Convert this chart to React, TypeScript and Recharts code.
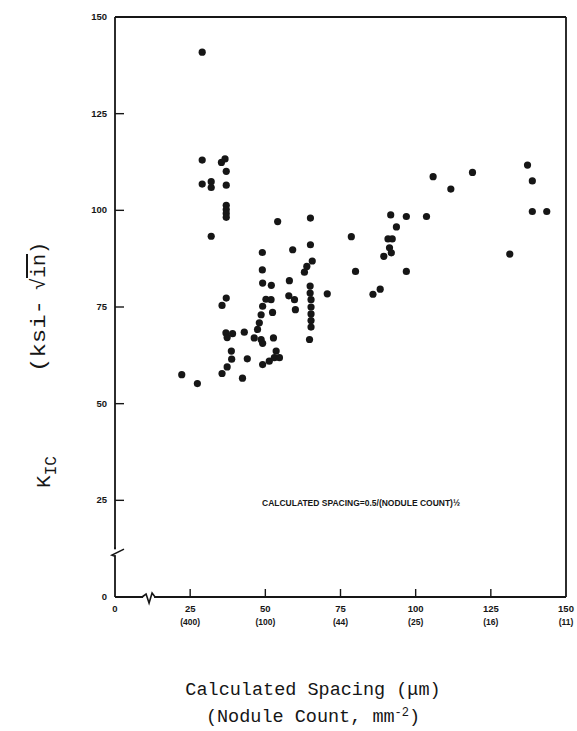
import { ScatterChart, Scatter, XAxis, YAxis, ReferenceLine, ReferenceDot } from "recharts"

// calculated nodule spacing (um) and fracture toughness K_IC (ksi-sqrt(in))
const spacing = [
  22.2, 27.4, 29.0, 29.0, 29.0, 32.0, 32.0, 32.0, 35.4, 36.6, 37.0, 37.0, 37.0, 37.0, 37.0, 37.0,
  37.0, 35.6, 36.9, 37.3, 39.1, 43.0, 38.7, 38.8, 44.0, 37.3, 35.6, 42.4,
  49.0, 49.0, 49.1, 52.0, 54.1, 50.2, 49.1, 48.6, 48.0, 47.4, 51.9, 52.4, 46.3, 48.6, 49.1, 52.7,
  49.1, 51.3, 53.0, 54.7, 53.6,
  58.0, 57.8, 59.7, 60.0, 59.1, 65.0, 65.0, 65.6, 63.8, 63.0, 64.9, 64.9, 65.2, 65.2, 65.2, 65.2,
  65.2, 64.7, 70.6,
  78.6, 80.0, 88.2, 85.8, 91.7, 96.9, 93.6, 90.8, 92.2, 91.3, 91.9, 89.4, 96.9, 103.6, 105.8, 111.7,
  118.9, 131.3, 137.2, 138.8, 138.8, 143.6,
]
const toughness = [
  57.5, 55.2, 140.9, 113.0, 106.8, 107.4, 105.9, 93.3, 112.4, 113.3, 110.1, 106.5, 101.3, 100.2, 99.2, 98.2,
  77.3, 75.4, 68.3, 67.1, 68.1, 68.5, 63.6, 61.5, 61.6, 59.5, 57.8, 56.6,
  89.1, 84.6, 81.2, 80.6, 97.1, 77.0, 75.2, 73.0, 70.9, 69.2, 76.9, 73.6, 67.0, 66.6, 65.6, 67.0,
  60.1, 61.0, 61.9, 61.9, 63.6,
  81.8, 77.9, 76.9, 74.3, 89.8, 98.0, 91.1, 86.9, 85.5, 84.0, 80.4, 78.6, 76.9, 75.0, 73.2, 71.5,
  69.8, 66.6, 78.4,
  93.2, 84.2, 79.6, 78.3, 98.8, 98.4, 95.7, 92.6, 92.6, 90.3, 89.0, 88.1, 84.2, 98.4, 108.7, 105.5,
  109.8, 88.7, 111.7, 107.6, 99.7, 99.7,
]

const xTicks = [0, 25, 50, 75, 100, 125, 150]
const countLabels = ["", "(400)", "(100)", "(44)", "(25)", "(16)", "(11)"]
const yTicks = [0, 25, 50, 75, 100, 125, 150]

// where the axes are broken
const xBreak = 11
const yBreak = 11.6

const data = spacing.map((x, i) => ({ x, y: toughness[i] }))

const ink = "#161616"
const tickFont = "'Liberation Sans Narrow', 'Arial Narrow', Arial, sans-serif"
const monoFont = "'Liberation Mono', 'DejaVu Sans Mono', monospace"

function XTick(props: any) {
  const { x, y, payload, index } = props
  const v = payload.value
  return (
    <g>
      {v !== 0 && v !== 150 && <line x1={x} x2={x} y1={y} y2={y - 8} stroke={ink} strokeWidth={1.4} />}
      <text x={x} y={y + 15} textAnchor="middle" fontSize={9.5} fontWeight="bold" fontFamily={tickFont} fill={ink}>
        {v}
      </text>
      <text x={x} y={y + 28} textAnchor="middle" fontSize={8.5} fontWeight="bold" fontFamily={tickFont} fill={ink}>
        {countLabels[index]}
      </text>
    </g>
  )
}

function YTick(props: any) {
  const { x, y, payload } = props
  const v = payload.value
  return (
    <g>
      {v !== 0 && v !== 150 && <line x1={x} x2={x + 9} y1={y} y2={y} stroke={ink} strokeWidth={1.4} />}
      <text x={x - 8} y={y + 3} textAnchor="end" fontSize={9.5} fontWeight="bold" fontFamily={tickFont} fill={ink}>
        {v}
      </text>
    </g>
  )
}

function XBreak(props: any) {
  const { cx, cy } = props
  return (
    <g>
      <rect x={cx - 5} y={cy - 3} width={11} height={6} fill="#fff" />
      <path
        d={`M${cx - 6},${cy} L${cx - 2},${cy - 3} L${cx + 1},${cy + 6} L${cx + 4},${cy - 4} L${cx + 7},${cy}`}
        fill="none"
        stroke={ink}
        strokeWidth={1.6}
      />
    </g>
  )
}

function YBreak(props: any) {
  const { cx, cy } = props
  return (
    <g>
      <rect x={cx - 3} y={cy - 3} width={6} height={6} fill="#fff" />
      <path
        d={`M${cx},${cy + 4} L${cx - 3},${cy + 3} L${cx + 9},${cy - 3} M${cx},${cy - 3} L${cx},${cy - 5}`}
        fill="none"
        stroke={ink}
        strokeWidth={1.6}
      />
    </g>
  )
}

const Dot = (props: any) => <circle cx={props.cx} cy={props.cy} r={3.6} fill={ink} />

export default function App() {
  return (
    <div style={{ position: "relative", width: 577, height: 731, background: "#fff" }}>
      <style>{"body{margin:0}"}</style>
      <ScatterChart width={577} height={731} margin={{ top: 17, right: 11, bottom: 94, left: 85 }}>
        <XAxis
          type="number"
          dataKey="x"
          domain={[0, 150]}
          ticks={xTicks}
          interval={0}
          height={40}
          tickSize={0}
          tickMargin={0}
          tickLine={false}
          axisLine={{ stroke: ink, strokeWidth: 1.8 }}
          tick={<XTick />}
        />
        <YAxis
          type="number"
          dataKey="y"
          domain={[0, 150]}
          ticks={yTicks}
          interval={0}
          width={30}
          tickSize={0}
          tickMargin={0}
          tickLine={false}
          axisLine={{ stroke: ink, strokeWidth: 1.8 }}
          tick={<YTick />}
        />
        <ReferenceLine y={150} stroke={ink} strokeWidth={1.8} />
        <ReferenceLine x={150} stroke={ink} strokeWidth={1.8} />
        <ReferenceDot x={xBreak} y={0} r={0} shape={<XBreak />} />
        <ReferenceDot x={0} y={yBreak} r={0} shape={<YBreak />} />
        <Scatter data={data} shape={<Dot />} isAnimationActive={false} />
        <text x={262} y={506} fontSize={9} fontWeight="bold" fontFamily={tickFont} fill={ink} textLength={198} lengthAdjust="spacingAndGlyphs">
          CALCULATED SPACING=0.5/(NODULE COUNT)½
        </text>
        <g transform="translate(50,472) rotate(-90)" fontFamily={monoFont} fill={ink}>
          <text x={0} y={0} textAnchor="middle" fontSize={21}>
            K<tspan dy={6} fontSize={16}>IC</tspan>
          </text>
        </g>
        <g transform="translate(45,336) rotate(-90)" fontFamily={monoFont} fill={ink}>
          <text x={0} y={0} textAnchor="middle" fontSize={20} textLength={72} lengthAdjust="spacingAndGlyphs">
            (ksi-
          </text>
        </g>
        <g transform="translate(45,266) rotate(-90)" fontFamily={monoFont} fill={ink}>
          <text x={0} y={0} textAnchor="middle" fontSize={20}>
            √<tspan style={{ textDecoration: "overline" }}>in</tspan>)
          </text>
        </g>
        <text x={313} y={695} textAnchor="middle" fontSize={18.5} fontFamily={monoFont} fill={ink}>
          Calculated Spacing (μm)
        </text>
        <text x={313} y={722} textAnchor="middle" fontSize={18.5} fontFamily={monoFont} fill={ink}>
          (Nodule Count, mm<tspan dy={-6} fontSize={12}>-2</tspan><tspan dy={6}>)</tspan>
        </text>
      </ScatterChart>
    </div>
  )
}
